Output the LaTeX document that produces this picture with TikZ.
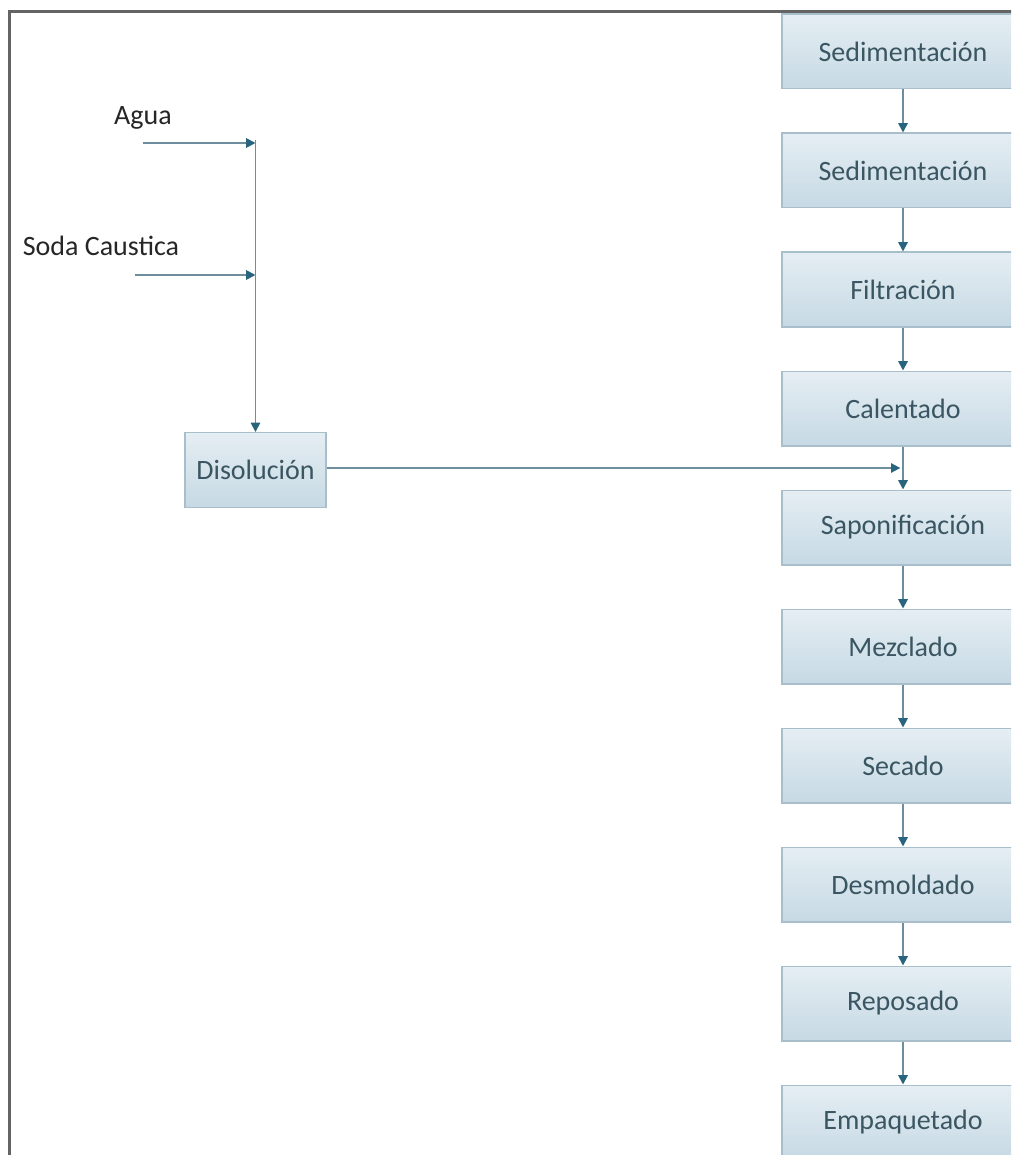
\documentclass[tikz,border=0pt]{standalone}
\usepackage{fontspec}
\setmainfont{Carlito}
\usepackage{xcolor}
\usetikzlibrary{arrows.meta,positioning}

\definecolor{boxtop}{RGB}{229,238,243}
\definecolor{boxbot}{RGB}{198,217,228}
\definecolor{boxline}{RGB}{168,190,202}
\definecolor{boxtext}{RGB}{58,86,98}
\definecolor{flowline}{RGB}{110,142,158}
\definecolor{flowtip}{RGB}{40,100,125}
\definecolor{frameline}{RGB}{100,100,100}

\tikzset{
  procbox/.style={draw=boxline, line width=1pt, top color=boxtop, bottom color=boxbot,
    text=boxtext, minimum width=181.5pt, minimum height=56pt, inner sep=0pt,
    font=\fontsize{21}{25}\selectfont},
  smallbox/.style={procbox, minimum width=105.75pt},
  flow/.style={draw=flowline, line width=1.4pt, -{Triangle[length=7pt,width=7pt,color=flowtip]}},
  inlabel/.style={anchor=base, inner sep=0pt, text=black!85, font=\fontsize{21}{25}\selectfont},
}

\begin{document}
\begin{tikzpicture}[x=0.75pt,y=0.75pt,yscale=-1,xscale=1]
    \useasboundingbox (0,0) rectangle (1011,1155);
    \clip (0,0) rectangle (1011,1155);

    %Frame
    \draw[frameline, line width=2.25pt] (9,1160) -- (9,12) -- (1020,12) ;

    % Process chain
    \node[procbox] (sed1) at (903,51.5) {Sedimentación};
    \node[procbox] (sed2) at (903,170.5) {Sedimentación};
    \node[procbox] (filt) at (903,289.5) {Filtración};
    \node[procbox] (cal) at (903,408.5) {Calentado};
    \node[procbox] (sap) at (903,527.5) {Saponificación};
    \node[procbox] (mez) at (903,646.5) {Mezclado};
    \node[procbox] (sec) at (903,765.5) {Secado};
    \node[procbox] (desm) at (903,884.5) {Desmoldado};
    \node[procbox] (repo) at (903,1003.5) {Reposado};
    \node[procbox] (emp) at (903,1122.5) {Empaquetado};

    % Dissolution
    \node[smallbox] (dis) at (255.5,470) {Disolución};

    % Inputs
    \node[inlabel] (agua) at (143,125) {Agua};
    \node[inlabel] (soda) at (101,256) {Soda Caustica};
    \coordinate (aguain) at (143,143);
    \coordinate (sodain) at (135,275);
    \coordinate (aguaj) at (255.5,143);
    \coordinate (sodaj) at (255.5,275);
    \coordinate (feed) at (903,468);

    %Straight Lines
    \draw[flow] (aguain) -- (aguaj) ;
    \draw[flow] (sodain) -- (sodaj) ;
    \draw[flow] (255.5,140) -- (dis.north) ;
    \draw[flow, shorten >=2pt] (dis.east |- feed) -- (feed) ;

    \draw[flow] (sed1) -- (sed2) ;
    \draw[flow] (sed2) -- (filt) ;
    \draw[flow] (filt) -- (cal) ;
    \draw[flow] (cal) -- (sap) ;
    \draw[flow] (sap) -- (mez) ;
    \draw[flow] (mez) -- (sec) ;
    \draw[flow] (sec) -- (desm) ;
    \draw[flow] (desm) -- (repo) ;
    \draw[flow] (repo) -- (emp) ;

\end{tikzpicture}
\end{document}
